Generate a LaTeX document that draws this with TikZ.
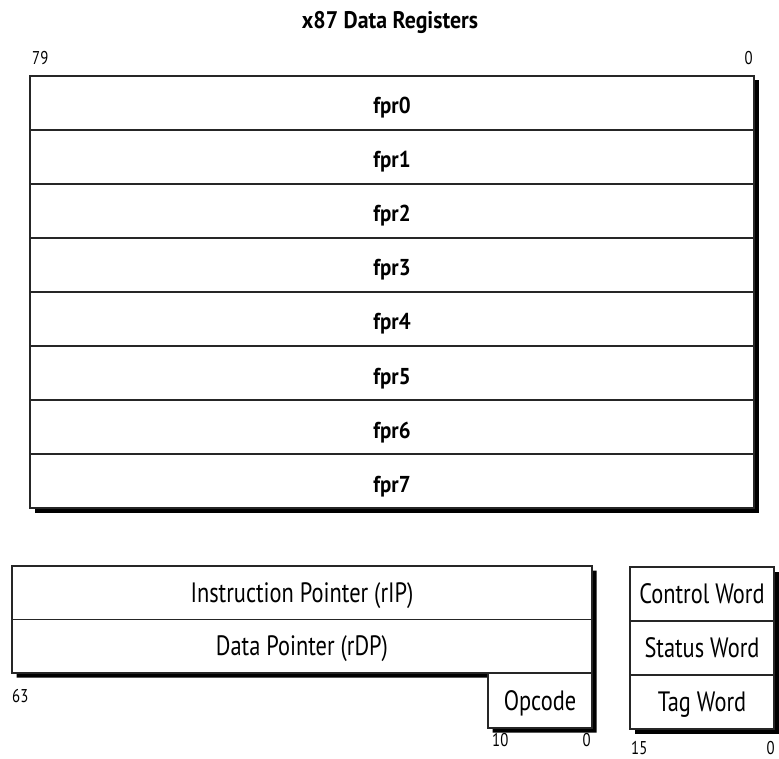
\documentclass[tikz,border=0pt]{standalone}
\usepackage{fontspec}
\setmainfont{PT Sans}[UprightFeatures={FakeStretch=0.8},BoldFeatures={FakeStretch=0.91}]
\begin{document}
\begin{tikzpicture}[x=1pt,y=-1pt,
    box/.style={draw=black!85,fill=white,line width=1.3pt,inner sep=0pt,
      text height=19pt,text depth=0pt,font=\fontsize{28}{30}\selectfont},
    reg/.style={box,minimum width=724pt,minimum height=54pt,
      text height=22pt,font=\fontsize{23}{25}\selectfont\bfseries},
    bit/.style={inner sep=0pt,anchor=base,font=\fontsize{18.5}{20}\selectfont},
    shadow/.style={fill=black}]

    \useasboundingbox (0,0) rectangle (779,759);

    % Titre et bornes
    \node[inner sep=0pt,anchor=base,font=\fontsize{24}{26}\selectfont\bfseries]
      (titre) at (390,29) {x87 Data Registers};
    \node[bit,anchor=base west] (b79) at (32,65) {79};
    \node[bit,anchor=base east] (b0) at (753,65) {0};

    % Registres fpr0..fpr7
    \fill[shadow] (34.5,80.5) rectangle (759,512.5);
    \foreach \i in {0,...,7}{
      \node[reg] (fpr\i) at (392,103+54*\i) {fpr\i};
    }

    % Pointeurs + opcode
    \fill[shadow] (16.5,570.5) -- (596.5,570.5) -- (596.5,732.5)
      -- (492.5,732.5) -- (492.5,677.5) -- (16.5,677.5) -- cycle;
    \node[box,minimum width=580pt,minimum height=53.5pt] (rip) at (302,592.75)
      {Instruction Pointer (rIP)};
    \node[box,minimum width=580pt,minimum height=53.5pt] (rdp) at (302,646.25)
      {Data Pointer (rDP)};
    \node[box,minimum width=104pt,minimum height=55pt] (opc) at (540,700.5)
      {Opcode};
    \node[bit,anchor=base west] (b63) at (12,702) {63};
    \node[bit,anchor=base west] (b10) at (492,746) {10};
    \node[bit,anchor=base east] (bo0) at (591,746) {0};

    % Mots de controle / etat / tag
    \fill[shadow] (634.5,571.5) rectangle (778.5,733.5);
    \foreach \k/\txt in {0/Control Word,1/Status Word,2/Tag Word}{
      \node[box,minimum width=144pt,minimum height=54pt] (w\k) at (702,594+54*\k)
        {\txt};
    }
    \node[bit,anchor=base west] (b15) at (631,754) {15};
    \node[bit,anchor=base east] (bw0) at (775,754) {0};

\end{tikzpicture}
\end{document}
